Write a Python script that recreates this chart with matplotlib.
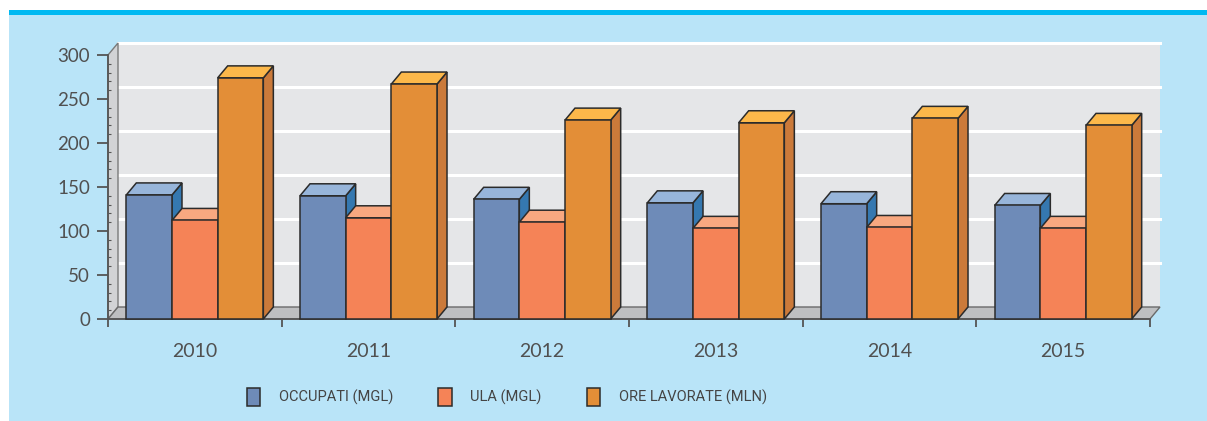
import numpy as np
import matplotlib.pyplot as plt
from matplotlib.patches import Polygon, Rectangle

years = ['2010', '2011', '2012', '2013', '2014', '2015']
occupati = [141, 140, 136, 132, 131, 129]      # OCCUPATI (MGL)
ula = [112, 115, 110, 103, 104, 103]           # ULA (MGL)
ore_lavorate = [274, 267, 226, 223, 228, 220]  # ORE LAVORATE (MLN)

series_names = ['OCCUPATI (MGL)', 'ULA (MGL)', 'ORE LAVORATE (MLN)']
# front, top, side
colors = [('#6E8BB8', '#97B5DA', '#3578B0'),
          ('#F58357', '#F8A880', '#D0683F'),
          ('#E38E37', '#FCB84A', '#CB7A3A')]

plt.rcParams['font.family'] = ['Lato', 'DejaVu Sans']

W, H = 1207, 421
fig = plt.figure(figsize=(W / 100, H / 100), dpi=100)
fig.patch.set_facecolor('white')

# light blue panel + cyan stripe on top
fig.patches.append(Rectangle((9 / W, 0), 1, (H - 10) / H, transform=fig.transFigure,
                             facecolor='#B9E4F8', edgecolor='none', zorder=-2))
fig.patches.append(Rectangle((9 / W, (H - 15) / H), 1, 5 / H, transform=fig.transFigure,
                             facecolor='#00B9F2', edgecolor='none', zorder=-1))

ax = fig.add_axes([108 / W, (H - 319) / H, (1150 - 108) / W, (319 - 55) / H])
ax.set_zorder(1)
ax.patch.set_visible(False)
n = len(years)
ax.set_xlim(0, n)
ax.set_ylim(0, 300)

# depth of the fake 3d, in data units (about 10 px right, 12 px up)
dx = 10 / ((1150 - 108) / n)
dy = 12 / ((319 - 55) / 300)

# back wall, side wall, floor
ax.add_patch(Polygon([(dx, dy), (n + dx, dy), (n + dx, 300 + dy), (dx, 300 + dy)],
                     closed=True, facecolor='#E5E6E8', edgecolor='none', zorder=0.5, clip_on=False))
ax.add_patch(Polygon([(0, 0), (dx, dy), (dx, 300 + dy), (0, 300)],
                     closed=True, facecolor='#D2D3D5', edgecolor='#7a7a7a', lw=1, zorder=0.6, clip_on=False))
ax.add_patch(Polygon([(0, 0), (n, 0), (n + dx, dy), (dx, dy)],
                     closed=True, facecolor='#BEBFC1', edgecolor='#6a6a6a', lw=1, zorder=0.6, clip_on=False))
for v in range(50, 301, 50):
    ax.plot([dx, n + dx], [v + dy, v + dy], color='white', lw=2.2, zorder=0.55, clip_on=False)

# bars
x = np.arange(n) + 0.5
bw = 0.789 / 3
handles = []
for i, vals in enumerate([occupati, ula, ore_lavorate]):
    front, top, side = colors[i]
    pos = x + (i - 1) * bw
    z = 3 + i
    bars = ax.bar(pos, vals, width=bw, color=front, edgecolor='#2b2b2b', lw=1.1,
                  zorder=z + 0.2, label=series_names[i], clip_on=False)
    handles.append(bars)
    for p, h in zip(pos, vals):
        x0, x1 = p - bw / 2, p + bw / 2
        ax.add_patch(Polygon([(x1, 0), (x1, h), (x1 + dx, h + dy), (x1 + dx, dy)],
                             closed=True, facecolor=side, edgecolor='#2b2b2b', lw=1.1,
                             zorder=z, clip_on=False))
        ax.add_patch(Polygon([(x0, h), (x1, h), (x1 + dx, h + dy), (x0 + dx, h + dy)],
                             closed=True, facecolor=top, edgecolor='#2b2b2b', lw=1.1,
                             zorder=z + 0.1, clip_on=False))

# axes styling
for s in ['top', 'right']:
    ax.spines[s].set_visible(False)
for s in ['left', 'bottom']:
    ax.spines[s].set_color('#555555')
    ax.spines[s].set_linewidth(1.3)
    ax.spines[s].set_zorder(2)

ax.set_yticks(range(0, 301, 50))
ax.set_yticks(range(0, 301, 10), minor=True)
ax.tick_params(axis='y', which='major', length=8, width=1.3, color='#555555',
               labelsize=13.5, labelcolor='#505050', pad=5)
ax.tick_params(axis='y', which='minor', direction='in', length=2, width=0.8, color='#555555')

ax.set_xticks(range(0, n + 1))
ax.set_xticklabels([])
ax.set_xticks(x, minor=True)
ax.set_xticklabels(years, minor=True)
ax.tick_params(axis='x', which='major', length=6, width=1.3, color='#555555')
ax.tick_params(axis='x', which='minor', length=0, labelsize=14, labelcolor='#505050', pad=17)

fig.legend(handles=handles, labels=series_names, loc='center',
           bbox_to_anchor=(507 / W, 1 - 397 / H), ncol=3, frameon=False,
           prop={'family': ['Roboto', 'DejaVu Sans'], 'size': 10.5},
           labelcolor='#444444', handlelength=0.9, handleheight=1.6,
           handletextpad=1.3, columnspacing=3.1)

fig.savefig('out.png', dpi=100, facecolor=fig.get_facecolor())
